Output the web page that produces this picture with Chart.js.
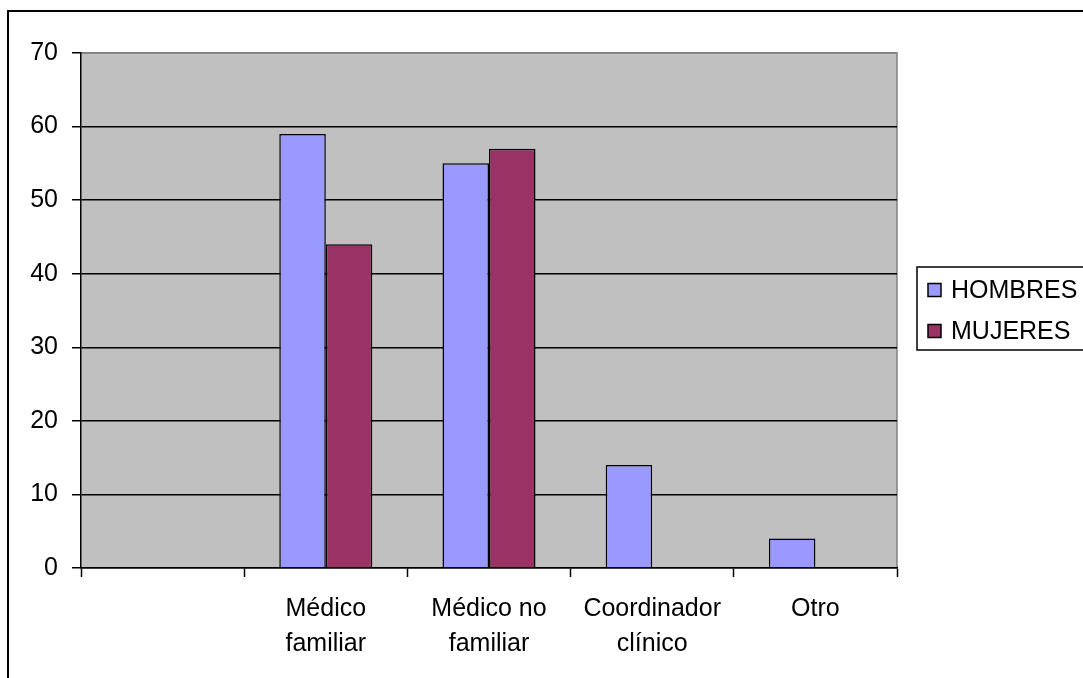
<!DOCTYPE html>
<html>
<head>
<meta charset="utf-8">
<style>
  html, body { margin: 0; padding: 0; background: #fff; }
  #wrap { width: 1083px; height: 678px; position: relative; }
</style>
<script src="https://cdn.jsdelivr.net/npm/chart.js@4/dist/chart.umd.min.js"></script>
</head>
<body>
<div id="wrap"><canvas id="c" width="1083" height="678"></canvas></div>
<script>
// Categories (the first slot is an empty category)
const categories = ["", ["Médico", "familiar"], ["Médico no", "familiar"], ["Coordinador", "clínico"], "Otro"];
const seriesNames = ["HOMBRES", "MUJERES"];
const hombres = [null, 59, 55, 14, 4];
const mujeres = [null, 44, 57, 0, 0];
const seriesColors = ["#9999FF", "#993366"];
const yMin = 0, yMax = 70, yStep = 10;

const FONT = "'Liberation Sans', Arial, sans-serif";
const FONT_SIZE = 25;
const LEGEND_FONT_SIZE = 25;

// Grey plot background with a grey top/right edge, plus the outer frame
const backdrop = {
  id: 'backdrop',
  beforeDraw(chart) {
    const { ctx, chartArea: a } = chart;
    ctx.save();
    ctx.fillStyle = '#C0C0C0';
    ctx.fillRect(a.left, a.top, a.right - a.left, a.bottom - a.top);
    ctx.strokeStyle = '#808080';
    ctx.lineWidth = 1.5;
    ctx.beginPath();
    ctx.moveTo(a.left, a.top);
    ctx.lineTo(a.right, a.top);
    ctx.lineTo(a.right, a.bottom);
    ctx.stroke();
    // outer frame (left and top edges)
    ctx.strokeStyle = '#000';
    ctx.lineWidth = 2;
    ctx.beginPath();
    ctx.moveTo(8, chart.height + 5);
    ctx.lineTo(8, 11);
    ctx.lineTo(chart.width + 5, 11);
    ctx.stroke();
    ctx.restore();
  }
};

// Boxed legend on the right
const boxLegend = {
  id: 'boxLegend',
  afterDraw(chart) {
    const { ctx } = chart;
    const x0 = 917, y0 = 267, h = 83;
    ctx.save();
    ctx.fillStyle = '#fff';
    ctx.fillRect(x0, y0, chart.width - x0 + 5, h);
    ctx.strokeStyle = '#000';
    ctx.lineWidth = 1.5;
    ctx.strokeRect(x0, y0, chart.width - x0 + 5, h);
    ctx.font = LEGEND_FONT_SIZE + 'px ' + FONT;
    ctx.textBaseline = 'middle';
    chart.data.datasets.forEach((ds, i) => {
      const cy = 290.5 + i * 41;
      ctx.fillStyle = ds.backgroundColor;
      ctx.fillRect(928, cy - 7, 13, 13);
      ctx.strokeStyle = '#000';
      ctx.lineWidth = 1.5;
      ctx.strokeRect(928, cy - 7, 13, 13);
      ctx.fillStyle = '#000';
      ctx.fillText(ds.label, 951, cy + 1);
    });
    ctx.restore();
  }
};

new Chart(document.getElementById('c'), {
  type: 'bar',
  data: {
    labels: categories,
    datasets: [
      { label: seriesNames[0], data: hombres, backgroundColor: seriesColors[0] },
      { label: seriesNames[1], data: mujeres, backgroundColor: seriesColors[1] }
    ]
  },
  options: {
    responsive: false,
    animation: false,
    devicePixelRatio: 1,
    layout: { padding: { top: 53, right: 186, left: 0, bottom: 0 } },
    datasets: {
      bar: {
        borderColor: '#000',
        borderWidth: 1.5,
        categoryPercentage: 0.57,
        barPercentage: 1.0
      }
    },
    plugins: {
      legend: { display: false },
      tooltip: { enabled: false },
      title: { display: false }
    },
    scales: {
      x: {
        afterFit(s) { s.height = 110; },
        grid: {
          offset: true,
          drawOnChartArea: false,
          drawTicks: true,
          tickLength: 9,
          tickColor: '#000',
          tickWidth: 1.5
        },
        border: { display: true, color: '#000', width: 1.5 },
        ticks: {
          color: '#000',
          maxRotation: 0,
          autoSkip: false,
          padding: 15,
          font: { family: FONT, size: FONT_SIZE, lineHeight: 1.4 }
        }
      },
      y: {
        min: yMin,
        max: yMax,
        afterFit(s) { s.width = 81; },
        grid: {
          color: (c) => (c.tick && c.tick.value === yMax ? '#808080' : '#000'),
          lineWidth: 1.5,
          drawTicks: true,
          tickLength: 9,
          tickColor: '#000',
          tickWidth: 1.5
        },
        border: { display: true, color: '#000', width: 1.5 },
        ticks: {
          stepSize: yStep,
          color: '#000',
          padding: 14,
          font: { family: FONT, size: FONT_SIZE }
        }
      }
    }
  },
  plugins: [backdrop, boxLegend]
});
</script>
</body>
</html>
